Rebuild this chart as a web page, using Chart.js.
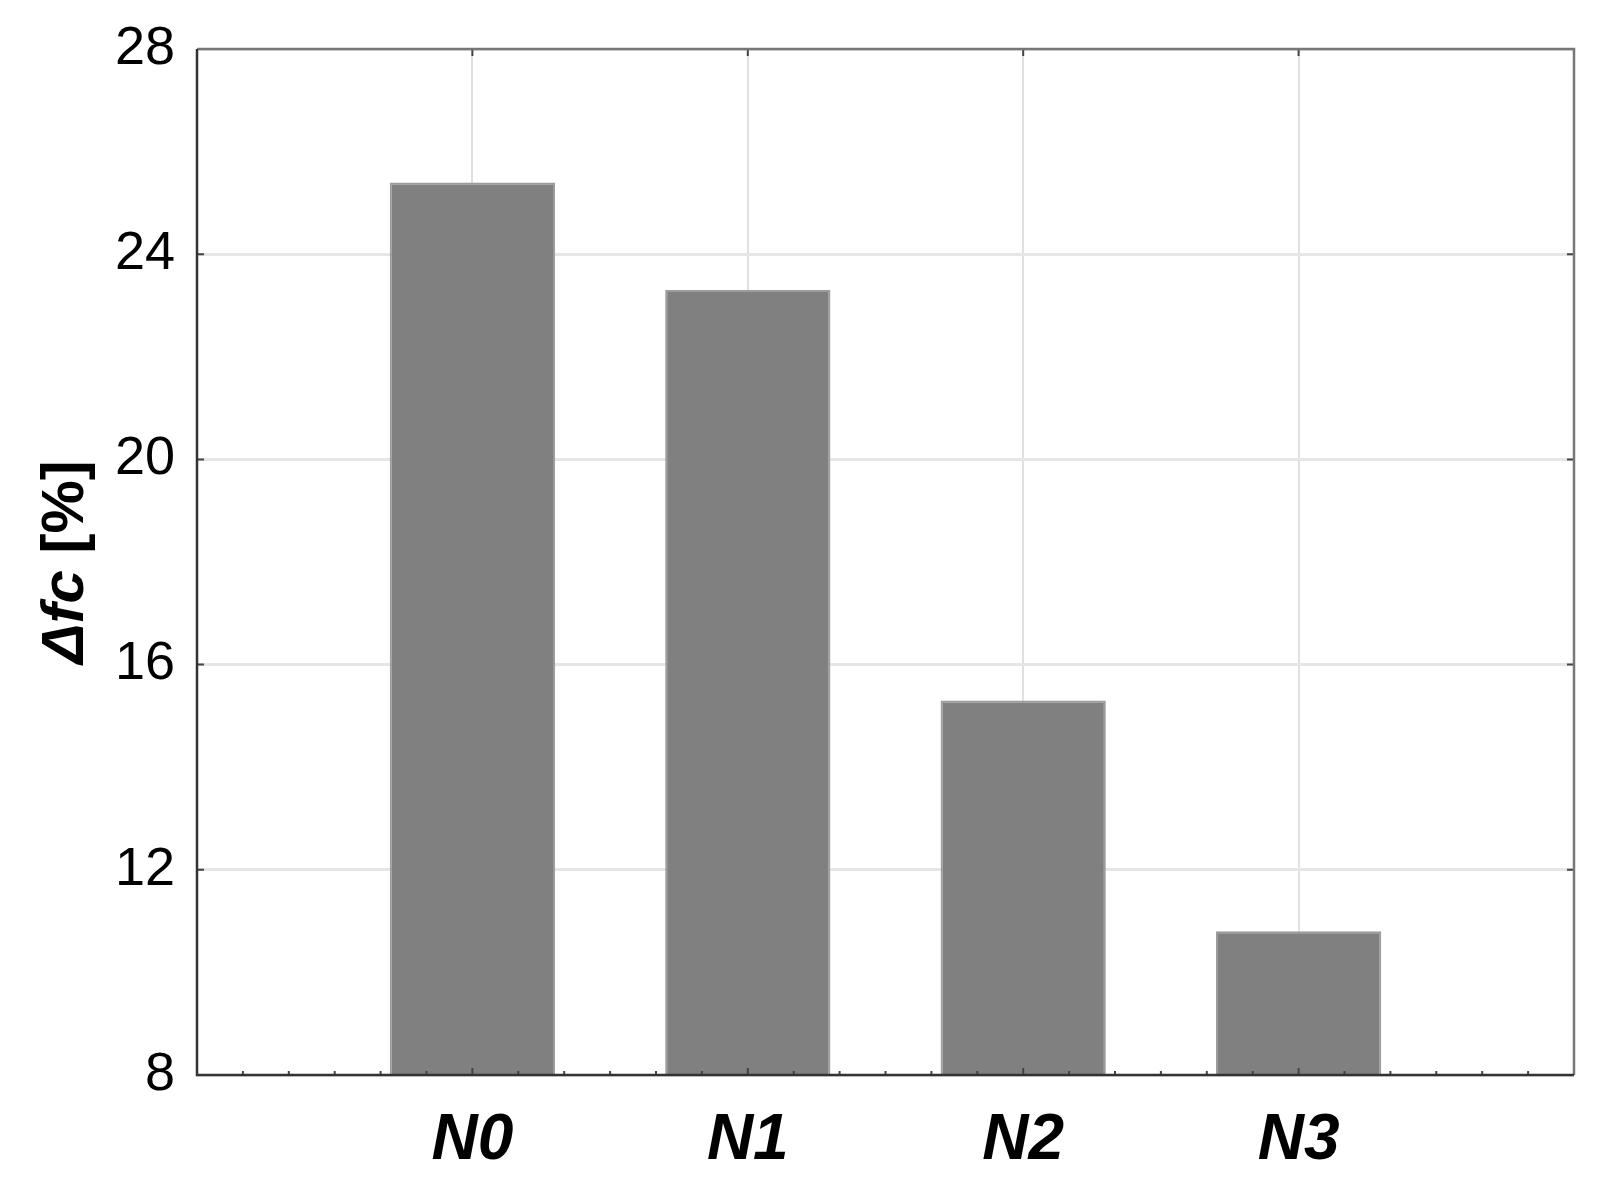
<!DOCTYPE html>
<html>
<head>
<meta charset="utf-8">
<script src="https://cdn.jsdelivr.net/npm/chart.js@4/dist/chart.umd.min.js"></script>
<style>
  html, body { margin: 0; padding: 0; background: #fff; }
  #wrap { width: 1597px; height: 1190px; }
</style>
</head>
<body>
<div id="wrap"><canvas id="chart" width="1597" height="1190"></canvas></div>
<script>
// data
var categories = ['N0', 'N1', 'N2', 'N3'];
var deltaFc = [25.4, 23.3, 15.3, 10.8];
var yTicks = [8, 12, 16, 20, 24, 28];

var points = categories.map(function (c, i) { return { x: i + 1, y: deltaFc[i] }; });

// frame round the plot + small inward ticks
var framePlugin = {
    id: 'frame',
    afterDatasetsDraw: function (chart) {
        var a = chart.chartArea, ctx = chart.ctx;
        var xs = chart.scales.x, ys = chart.scales.y;
        ctx.save();
        ctx.strokeStyle = '#444';
        ctx.lineWidth = 2;
        // minor ticks on bottom / top
        for (var k = 1; k < 30; k++) {
            var px = xs.getPixelForValue(k / 6);
            var len = (k % 6 === 0) ? 7 : 4;
            ctx.beginPath();
            ctx.moveTo(px, a.bottom); ctx.lineTo(px, a.bottom - len);
            ctx.stroke();
            if (k % 6 === 0) {
                ctx.beginPath();
                ctx.moveTo(px, a.top); ctx.lineTo(px, a.top + len);
                ctx.stroke();
            }
        }
        yTicks.forEach(function (v) {
            var py = ys.getPixelForValue(v);
            ctx.beginPath();
            ctx.moveTo(a.left, py); ctx.lineTo(a.left + 7, py);
            ctx.moveTo(a.right, py); ctx.lineTo(a.right - 7, py);
            ctx.stroke();
        });
        ctx.lineWidth = 2.5;
        ctx.strokeStyle = '#777';
        ctx.beginPath();
        ctx.moveTo(a.left, a.top); ctx.lineTo(a.right, a.top); ctx.lineTo(a.right, a.bottom);
        ctx.stroke();
        ctx.strokeStyle = '#333';
        ctx.beginPath();
        ctx.moveTo(a.left, a.top); ctx.lineTo(a.left, a.bottom); ctx.lineTo(a.right, a.bottom);
        ctx.stroke();
        ctx.restore();
    },
    afterDraw: function (chart) {
        // y title, "Δfc" bold italic + " [%]" bold
        var a = chart.chartArea, ctx = chart.ctx;
        var f1 = 'italic bold 60px "Liberation Sans", Arial, sans-serif';
        var f2 = 'bold 60px "Liberation Sans", Arial, sans-serif';
        var t1 = 'Δfc', t2 = ' [%]';
        ctx.save();
        ctx.font = f1; var w1 = ctx.measureText(t1).width;
        ctx.font = f2; var w2 = ctx.measureText(t2).width;
        ctx.translate(66, (a.top + a.bottom) / 2);
        ctx.rotate(-Math.PI / 2);
        ctx.fillStyle = '#000';
        ctx.textBaseline = 'middle';
        ctx.textAlign = 'left';
        var x0 = -(w1 + w2) / 2;
        ctx.font = f1; ctx.fillText(t1, x0, 0);
        ctx.font = f2; ctx.fillText(t2, x0 + w1, 0);
        ctx.restore();
    }
};

new Chart(document.getElementById('chart'), {
    type: 'bar',
    data: {
        datasets: [{
            data: points,
            backgroundColor: '#808080',
            borderColor: '#9c9c9c',
            borderWidth: 2,
            borderSkipped: 'bottom',
            categoryPercentage: 1,
            barPercentage: 0.6
        }]
    },
    options: {
        responsive: false,
        animation: false,
        layout: { padding: { left: 0, top: 49, right: 23, bottom: 0 } },
        plugins: { legend: { display: false }, tooltip: { enabled: false } },
        scales: {
            x: {
                type: 'linear',
                min: 0, max: 5,
                offset: false,
                afterFit: function (s) { s.height = 115; s.paddingLeft = 0; s.paddingRight = 0; },
                border: { display: false },
                grid: {
                    offset: false,
                    drawTicks: false,
                    lineWidth: 2,
                    color: function (c) {
                        var v = c.tick && c.tick.value;
                        return (v >= 1 && v <= 4) ? '#e0e0e0' : 'rgba(0,0,0,0)';
                    }
                },
                ticks: {
                    stepSize: 1,
                    padding: 28,
                    color: '#000',
                    font: { family: '"Liberation Sans Narrow", "Liberation Sans", Arial, sans-serif', size: 64, weight: 'bold', style: 'italic' },
                    callback: function (v) { return categories[v - 1] || ''; }
                }
            },
            y: {
                min: 8, max: 28,
                afterFit: function (s) { s.width = 197; s.paddingTop = 0; s.paddingBottom = 0; },
                border: { display: false },
                grid: { drawTicks: false, lineWidth: 3, color: '#e6e6e6' },
                ticks: {
                    stepSize: 4,
                    padding: 22,
                    color: '#000',
                    font: { family: '"Liberation Sans", Arial, sans-serif', size: 54 }
                }
            }
        }
    },
    plugins: [framePlugin]
});
</script>
</body>
</html>
